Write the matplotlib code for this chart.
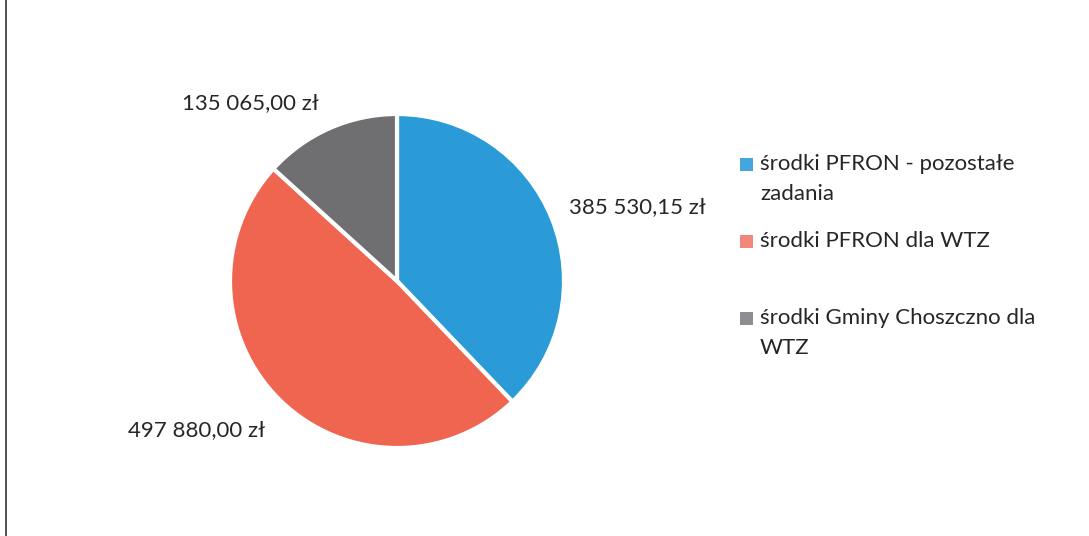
import matplotlib
matplotlib.use("Agg")
import matplotlib.pyplot as plt
from matplotlib.patches import Rectangle
from matplotlib.lines import Line2D

# data
LABELS = ["środki PFRON - pozostałe\nzadania", "środki PFRON dla WTZ",
          "środki Gminy Choszczno dla\nWTZ"]
VALUES = [385530.15, 497880.00, 135065.00]
VALUE_TEXT = ["385 530,15 zł", "497 880,00 zł", "135 065,00 zł"]
COLORS = ["#2B9BD8", "#EF6550", "#6F6F71"]
LEGEND_COLORS = ["#45A6DE", "#F2877C", "#8C8E92"]

W, H = 1089, 536
plt.rcParams["font.family"] = ["Lato", "DejaVu Sans"]

fig = plt.figure(figsize=(W / 100, H / 100), dpi=100)
fig.patch.set_facecolor("white")

# pie axes, centred at (397, 281) px, radius 167 px
cx, cy, r = 397, 281, 167
ax = fig.add_axes([(cx - r) / W, (H - cy - r) / H, 2 * r / W, 2 * r / H])
ax.pie(VALUES, colors=COLORS, startangle=90, counterclock=False,
       wedgeprops=dict(edgecolor="white", linewidth=3))
ax.set_xlim(-1, 1)
ax.set_ylim(-1, 1)
ax.set_aspect("auto")
ax.axis("off")

# value labels (pixel positions of text centres)
label_pos = [(637, 207), (197, 430), (250, 103)]
for (x, y), txt in zip(label_pos, VALUE_TEXT):
    fig.text(x / W, 1 - y / H, txt, ha="center", va="center",
             fontsize=16, color="#262626")

# legend
legend_rows = [164, 241, 318]
for y, lab, col in zip(legend_rows, LABELS, LEGEND_COLORS):
    fig.patches.append(Rectangle((740 / W, 1 - (y + 6.5) / H), 13 / W, 13 / H,
                                 transform=fig.transFigure, facecolor=col,
                                 edgecolor="none"))
    for i, line in enumerate(lab.split("\n")):
        fig.text(760 / W, 1 - (y + 30 * i) / H, line, ha="left",
                 va="center", fontsize=16, color="#262626")

# left page border from the scan
fig.add_artist(Line2D([6 / W, 6 / W], [0, 1], transform=fig.transFigure,
                      color="#333333", linewidth=1.2))

fig.savefig("out.png", dpi=100)
